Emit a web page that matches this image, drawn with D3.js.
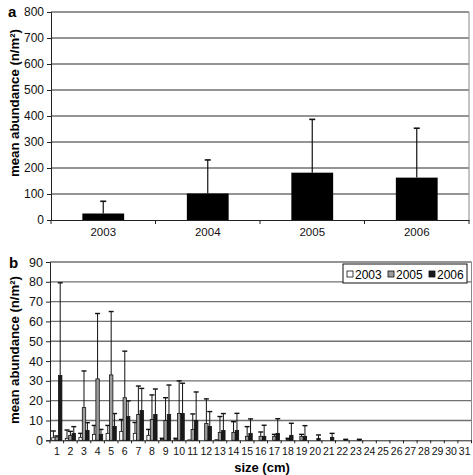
<!DOCTYPE html>
<html><head><meta charset="utf-8">
<script src="https://cdn.jsdelivr.net/npm/d3@7"></script>
<style>body{margin:0;background:#fff}svg{display:block}text{font-family:"Liberation Sans",Arial,sans-serif}</style>
</head><body>
<script>
// ---- Panel a data ----
const topYears = ["2003", "2004", "2005", "2006"];
const topMeans = [25, 102, 182, 163];
const topSD = [47, 129, 205, 190];
const topTicks = [0, 100, 200, 300, 400, 500, 600, 700, 800];

// ---- Panel b data ----
const sizes = d3.range(1, 32).map(String);
const seriesNames = ["2003", "2005", "2006"];
const mean2003 = [1.3,1,1.5,3,3.5,4.5,3.5,2.5,0.5,0.5,0.2,0,0.3,0,0,0,0,0,0,0,0,0,0,0,0,0,0,0,0,0,0];
const sd2003   = [3.4,4.2,2,4.5,4,6,5.5,3,0.5,0.5,0,0,0,0,0,0,0,0,0,0,0,0,0,0,0,0,0,0,0,0,0];
const mean2005 = [1.7,2.5,16.5,31,33,21.5,13,10.5,10,13.5,5.5,8.5,4,4,2,2,2,0.5,2,0,0,0,0,0,0,0,0,0,0,0,0];
const sd2005   = [0.5,2,18.5,33,32,23.5,14.4,12.4,11.5,16.5,7.8,12.4,8,5.4,4.9,2.2,1,0.5,1,0,0,0,0,0,0,0,0,0,0,0,0];
const mean2006 = [32.7,3.5,5,3,7,12,15,13,13,13.5,10,7,5,5,3.5,2,3.5,2.5,2,1,1.5,0.3,0.3,0,0,0,0,0,0,0,0];
const sd2006   = [46.8,3.4,3.9,2.5,6.5,7.9,11.2,12.9,14.9,15.3,14.4,7.5,8.5,8.6,7.3,5.6,7.4,6.1,5.4,1.7,2,0.2,0.2,0,0,0,0,0,0,0,0];
const botTicks = [0,10,20,30,40,50,60,70,80,90];
const seriesFill = ["#ffffff", "#9c9c9c", "#1a1a1a"];

const svg = d3.select("body").append("svg").attr("width", 473).attr("height", 475);
const gridColor = "#707070";

// ================= Panel a =================
const aL = 51, aR = 469, aT = 12, aB = 220;
const xA = d3.scaleBand().domain(topYears).range([aL, aR]).padding(0);
const yA = d3.scaleLinear().domain([0, 800]).range([aB, aT]);
const gA = svg.append("g");

gA.selectAll("line.grid").data(topTicks.filter(d => d > 0)).join("line")
  .attr("x1", aL).attr("x2", aR).attr("y1", d => yA(d)).attr("y2", d => yA(d))
  .attr("stroke", gridColor).attr("stroke-width", 1.3);
gA.append("line").attr("x1", aR).attr("x2", aR).attr("y1", aT).attr("y2", aB)
  .attr("stroke", "#888").attr("stroke-width", 1);

const yAxA = gA.append("g").attr("transform", `translate(${aL},0)`)
  .call(d3.axisLeft(yA).tickValues(topTicks).tickSize(4).tickPadding(3));
yAxA.select(".domain").attr("stroke", "#222");
yAxA.selectAll(".tick line").attr("stroke", "#222");
yAxA.selectAll("text").attr("font-size", 12).attr("fill", "#111");

const xAxA = gA.append("g").attr("transform", `translate(0,${aB})`)
  .call(d3.axisBottom(xA).tickSize(0).tickPadding(8));
xAxA.select(".domain").attr("stroke", "#222");
xAxA.selectAll("text").attr("font-size", 11.5).attr("fill", "#111");
gA.selectAll("line.xt").data(topYears.map(d => xA(d)).concat([aR])).join("line")
  .attr("x1", d => d).attr("x2", d => d).attr("y1", aB).attr("y2", aB + 4)
  .attr("stroke", "#222");

const bwA = xA.bandwidth() * 0.4;
gA.selectAll("rect.bar").data(topYears).join("rect")
  .attr("x", d => xA(d) + (xA.bandwidth() - bwA) / 2)
  .attr("y", (d, i) => yA(topMeans[i]))
  .attr("width", bwA).attr("height", (d, i) => aB - yA(topMeans[i]))
  .attr("fill", "#000");
gA.selectAll("line.err").data(topYears).join("line")
  .attr("x1", d => xA(d) + xA.bandwidth() / 2).attr("x2", d => xA(d) + xA.bandwidth() / 2)
  .attr("y1", (d, i) => yA(topMeans[i])).attr("y2", (d, i) => yA(topMeans[i] + topSD[i]))
  .attr("stroke", "#111").attr("stroke-width", 1.2);
gA.selectAll("line.cap").data(topYears).join("line")
  .attr("x1", d => xA(d) + xA.bandwidth() / 2 - 3).attr("x2", d => xA(d) + xA.bandwidth() / 2 + 3)
  .attr("y1", (d, i) => yA(topMeans[i] + topSD[i])).attr("y2", (d, i) => yA(topMeans[i] + topSD[i]))
  .attr("stroke", "#111").attr("stroke-width", 1.6);

svg.append("text").attr("x", 8).attr("y", 17).text("a")
  .attr("font-family", "Liberation Serif, Times New Roman, serif").attr("font-weight", "bold").attr("font-size", 15);
svg.append("text").attr("transform", "translate(19,103) rotate(-90)").attr("text-anchor", "middle")
  .attr("font-weight", "bold").attr("font-size", 13.2).text("mean abundance (n/m²)");

// ================= Panel b =================
const bL = 50, bR = 471.5, bT = 262, bB = 440.3;
const xB = d3.scaleBand().domain(sizes).range([bL, bR]).padding(0);
const groupW = 10.2;
const xSub = d3.scaleBand().domain(seriesNames).range([0, groupW]).padding(0);
const yB = d3.scaleLinear().domain([0, 90]).range([bB, bT]);
const gB = svg.append("g");

gB.selectAll("line.grid").data(botTicks.filter(d => d > 0)).join("line")
  .attr("x1", bL).attr("x2", bR).attr("y1", d => yB(d)).attr("y2", d => yB(d))
  .attr("stroke", gridColor).attr("stroke-width", 1.3);
gB.append("line").attr("x1", bR).attr("x2", bR).attr("y1", bT).attr("y2", bB)
  .attr("stroke", "#888").attr("stroke-width", 1);

const yAxB = gB.append("g").attr("transform", `translate(${bL},0)`)
  .call(d3.axisLeft(yB).tickValues(botTicks).tickSize(4).tickPadding(3));
yAxB.select(".domain").attr("stroke", "#222");
yAxB.selectAll(".tick line").attr("stroke", "#222");
yAxB.selectAll("text").attr("font-size", 12.5).attr("fill", "#111");

const xAxB = gB.append("g").attr("transform", `translate(0,${bB})`)
  .call(d3.axisBottom(xB).tickSize(0).tickPadding(7));
xAxB.select(".domain").attr("stroke", "#222");
xAxB.selectAll("text").attr("font-size", 10.5).attr("fill", "#111");
gB.selectAll("line.xt").data(sizes.map(d => xB(d)).concat([bR])).join("line")
  .attr("x1", d => d).attr("x2", d => d).attr("y1", bB).attr("y2", bB + 3)
  .attr("stroke", "#222");

const means = [mean2003, mean2005, mean2006];
const sds = [sd2003, sd2005, sd2006];
const barData = [];
seriesNames.forEach((s, si) => {
  sizes.forEach((c, ci) => {
    barData.push({ s, si, c, m: means[si][ci], sd: sds[si][ci] });
  });
});
const off = (xB.bandwidth() - groupW) / 2;
const bx = d => xB(d.c) + off + xSub(d.s);
const bw = xSub.bandwidth();

const nz = barData.filter(d => d.m > 0);
gB.selectAll("line.err").data(nz.filter(d => d.sd > 0)).join("line")
  .attr("x1", d => bx(d) + bw / 2).attr("x2", d => bx(d) + bw / 2)
  .attr("y1", d => yB(d.m)).attr("y2", d => yB(d.m + d.sd))
  .attr("stroke", "#111").attr("stroke-width", 1);
gB.selectAll("line.cap").data(nz.filter(d => d.sd > 0)).join("line")
  .attr("x1", d => bx(d) + bw / 2 - 2.5).attr("x2", d => bx(d) + bw / 2 + 2.5)
  .attr("y1", d => yB(d.m + d.sd)).attr("y2", d => yB(d.m + d.sd))
  .attr("stroke", "#111").attr("stroke-width", 1.4);
gB.selectAll("rect.bar").data(nz).join("rect")
  .attr("x", d => bx(d)).attr("y", d => yB(d.m))
  .attr("width", bw).attr("height", d => bB - yB(d.m))
  .attr("fill", d => seriesFill[d.si]).attr("stroke", "#111").attr("stroke-width", 0.8);

// legend
const leg = gB.append("g");
leg.append("rect").attr("x", 343).attr("y", 264).attr("width", 124).attr("height", 19)
  .attr("fill", "#fff").attr("stroke", "#111").attr("stroke-width", 1);
const legX = [347, 388, 429];
seriesNames.forEach((s, i) => {
  leg.append("rect").attr("x", legX[i]).attr("y", 271).attr("width", 6).attr("height", 6)
    .attr("fill", seriesFill[i]).attr("stroke", "#111").attr("stroke-width", 0.8);
  leg.append("text").attr("x", legX[i] + 8).attr("y", 278.5).attr("font-size", 12).text(s);
});

svg.append("text").attr("x", 9).attr("y", 268).text("b")
  .attr("font-family", "Liberation Serif, Times New Roman, serif").attr("font-weight", "bold").attr("font-size", 15);
svg.append("text").attr("transform", "translate(19,350) rotate(-90)").attr("text-anchor", "middle")
  .attr("font-weight", "bold").attr("font-size", 13.2).text("mean abundance (n/m²)");
svg.append("text").attr("x", 262).attr("y", 472).attr("text-anchor", "middle")
  .attr("font-weight", "bold").attr("font-size", 13).text("size (cm)");
</script>
</body></html>
